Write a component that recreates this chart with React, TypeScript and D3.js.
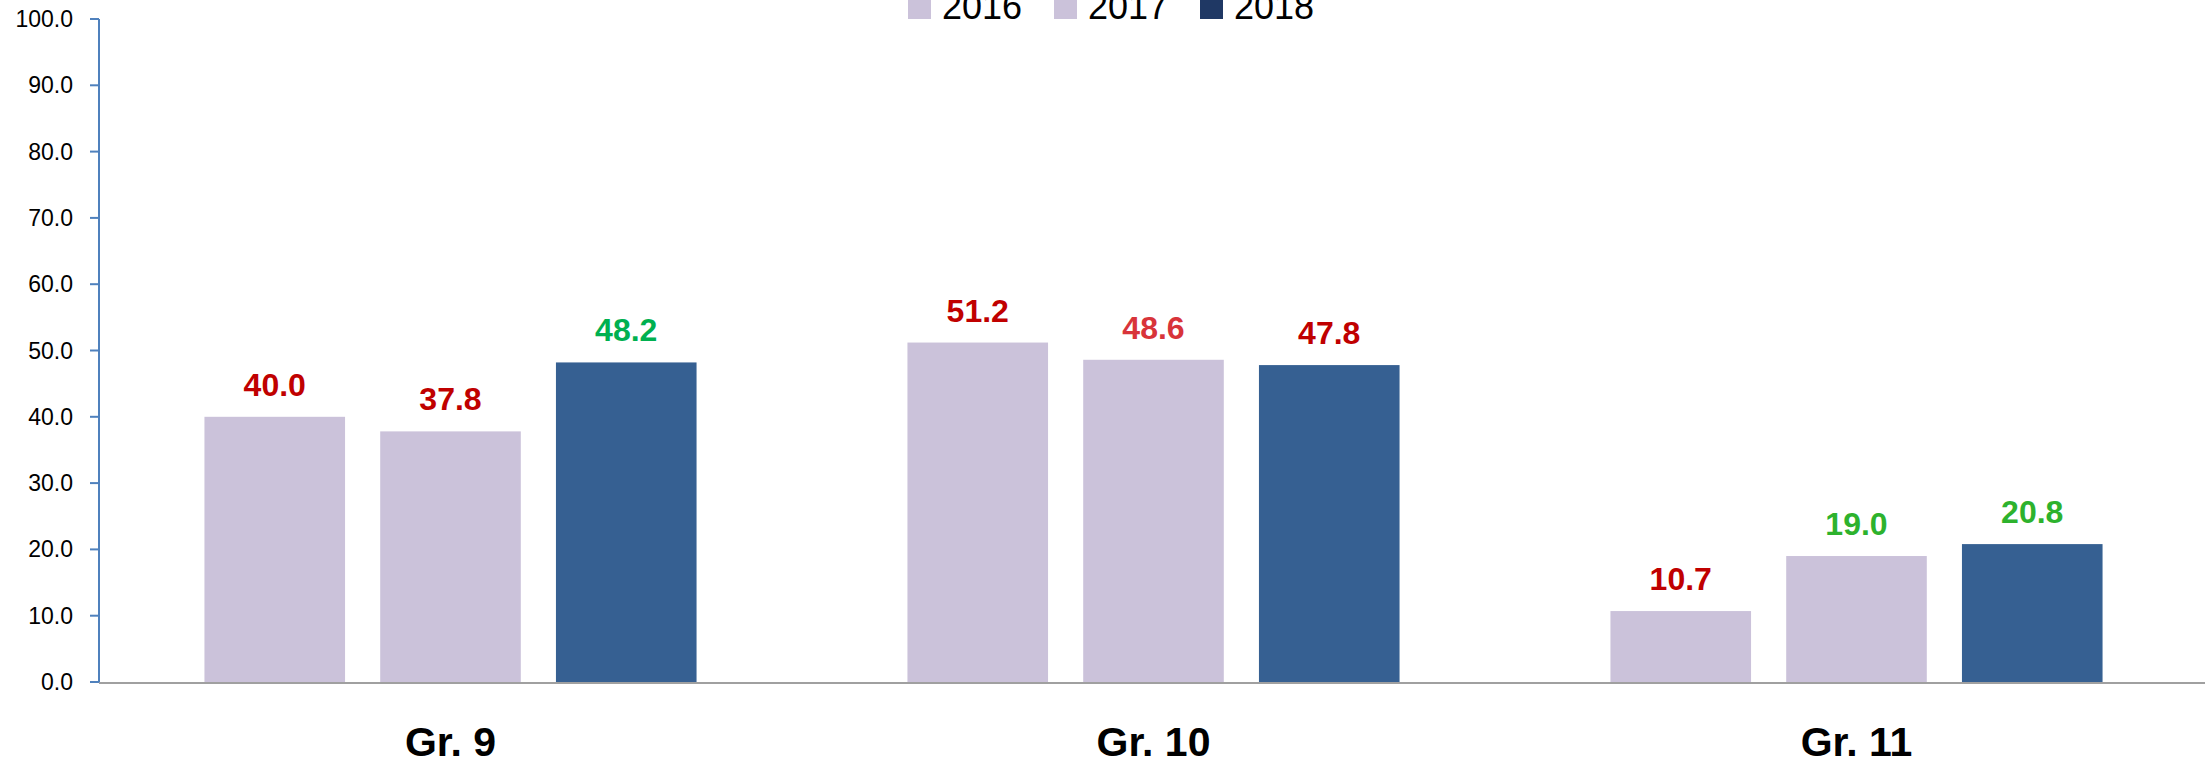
import React from 'react'
import * as d3 from 'd3'

const grades = ['Gr. 9', 'Gr. 10', 'Gr. 11']
const years = ['2016', '2017', '2018']
const values2016 = [40.0, 51.2, 10.7]
const values2017 = [37.8, 48.6, 19.0]
const values2018 = [48.2, 47.8, 20.8]
const yTicks = [0, 10, 20, 30, 40, 50, 60, 70, 80, 90, 100]

// label colours, by grade then year
const labelColors = [
    ['#C00000', '#C00000', '#00B050'],
    ['#C00000', '#D8343A', '#C00000'],
    ['#C00000', '#2DB22D', '#2DB22D'],
]
const barColors = ['#CBC2DA', '#CBC2DA', '#366092']
const legendColors = ['#CBC2DA', '#CBC2DA', '#1F3864']

const W = 2205
const H = 765
const font = '"Liberation Sans", Arial, sans-serif'

export default function App() {
    const series = [values2016, values2017, values2018]

    const x0 = d3.scaleBand().domain(grades).range([99, 2208]).padding(0)
    const x1 = d3.scaleBand().domain(years).range([0, x0.bandwidth()]).paddingInner(0.2).paddingOuter(0.6)
    const y = d3.scaleLinear().domain([0, 100]).range([682, 19])

    const legendX = [908, 1054, 1200]

    return (
        <svg width={W} height={H} style={{ position: 'absolute', left: 0, top: 0, background: '#fff' }}>
            {/* y axis */}
            <line x1={99} x2={99} y1={y(100)} y2={y(0)} stroke="#4F81BD" strokeWidth={2} />
            {yTicks.map(t => (
                <g key={t}>
                    <line x1={90} x2={99} y1={y(t)} y2={y(t)} stroke="#4F81BD" strokeWidth={2} />
                    <text x={73} y={y(t)} dy="0.35em" textAnchor="end" fontFamily={font} fontSize={23} fill="#000">
                        {d3.format('.1f')(t)}
                    </text>
                </g>
            ))}

            {/* bars */}
            {grades.map((g, gi) => (
                <g key={g} transform={`translate(${x0(g)},0)`}>
                    {years.map((yr, si) => {
                        const v = series[si][gi]
                        return (
                            <g key={yr}>
                                <rect x={x1(yr)} y={y(v)} width={x1.bandwidth()} height={y(0) - y(v)} fill={barColors[si]} />
                                <text x={(x1(yr) as number) + x1.bandwidth() / 2} y={y(v) - 21} textAnchor="middle"
                                    fontFamily={font} fontWeight="bold" fontSize={32} fill={labelColors[gi][si]}>
                                    {d3.format('.1f')(v)}
                                </text>
                            </g>
                        )
                    })}
                    <text x={x0.bandwidth() / 2} y={756} textAnchor="middle" fontFamily={font} fontWeight="bold" fontSize={41} fill="#000">
                        {g}
                    </text>
                </g>
            ))}

            {/* x axis */}
            <line x1={99} x2={W} y1={y(0) + 1} y2={y(0) + 1} stroke="#A0A0A0" strokeWidth={2} />

            {/* legend */}
            {years.map((yr, i) => (
                <g key={yr}>
                    <rect x={legendX[i]} y={-4} width={23} height={23} fill={legendColors[i]} />
                    <text x={legendX[i] + 34} y={19} fontFamily={font} fontSize={36} fill="#000">{yr}</text>
                </g>
            ))}
        </svg>
    )
}
